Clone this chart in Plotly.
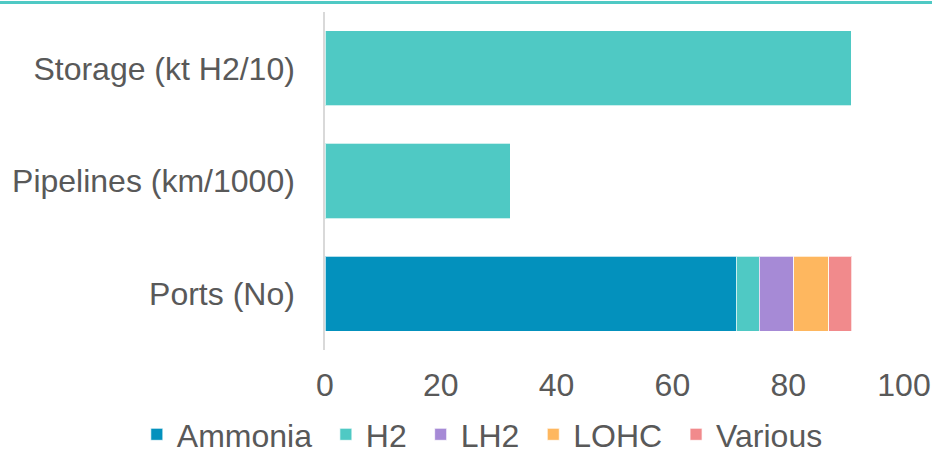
import plotly.graph_objects as go

# Categories, bottom to top
categories = ["Ports (No)", "Pipelines (km/1000)", "Storage (kt H2/10)"]

# Stacked series values per category
ammonia = [71, 0, 0]
h2 = [4, 32, 91]
lh2 = [6, 0, 0]
lohc = [6, 0, 0]
various = [4, 0, 0]

series_names = ["Ammonia", "H2", "LH2", "LOHC", "Various"]
series_values = [ammonia, h2, lh2, lohc, various]
series_colors = ["#0391BD", "#4FC9C4", "#A68AD6", "#FEB75F", "#F18A8C"]

x_ticks = [0, 20, 40, 60, 80, 100]

FONT = "Liberation Sans, Arial, sans-serif"
TEXT = "#595959"
NBSP = "\u00a0"

fig = go.Figure()
for i, (name, vals, color) in enumerate(zip(series_names, series_values, series_colors)):
    # a little trailing space widens the gap between legend entries
    label = name + (NBSP if i < len(series_names) - 1 else "")
    fig.add_trace(go.Bar(
        y=categories,
        x=vals,
        name=label,
        orientation="h",
        marker=dict(color=color, line=dict(color="rgba(255,255,255,0.7)", width=1)),
    ))

fig.update_layout(
    barmode="stack",
    bargap=0.334,
    width=932,
    height=454,
    margin=dict(l=325, r=28, t=12, b=104, autoexpand=False),
    paper_bgcolor="white",
    plot_bgcolor="white",
    font=dict(family=FONT, size=32, color=TEXT),
    showlegend=True,
    legend=dict(
        orientation="h",
        x=-0.325,
        xanchor="left",
        y=-0.25,
        yanchor="middle",
        font=dict(family=FONT, size=32, color=TEXT),
        itemclick=False,
        traceorder="normal",
        itemwidth=30,
    ),
    xaxis=dict(
        range=[0, 100],
        tickvals=x_ticks,
        ticktext=[str(v) for v in x_ticks],
        showgrid=False,
        zeroline=False,
        showline=False,
        ticks="",
        ticklabelstandoff=13,
    ),
    yaxis=dict(
        categoryorder="array",
        categoryarray=categories,
        showgrid=False,
        zeroline=False,
        showline=True,
        linecolor="#D9D9D9",
        linewidth=1.5,
        ticks="",
        ticklabelstandoff=22,
    ),
    shapes=[
        dict(
            type="line",
            xref="paper",
            yref="paper",
            x0=-1,
            x1=2,
            y0=1 + 9.5 / 338,
            y1=1 + 9.5 / 338,
            line=dict(color="#4FC9C4", width=3),
        )
    ],
)

fig.write_html("out.html")
